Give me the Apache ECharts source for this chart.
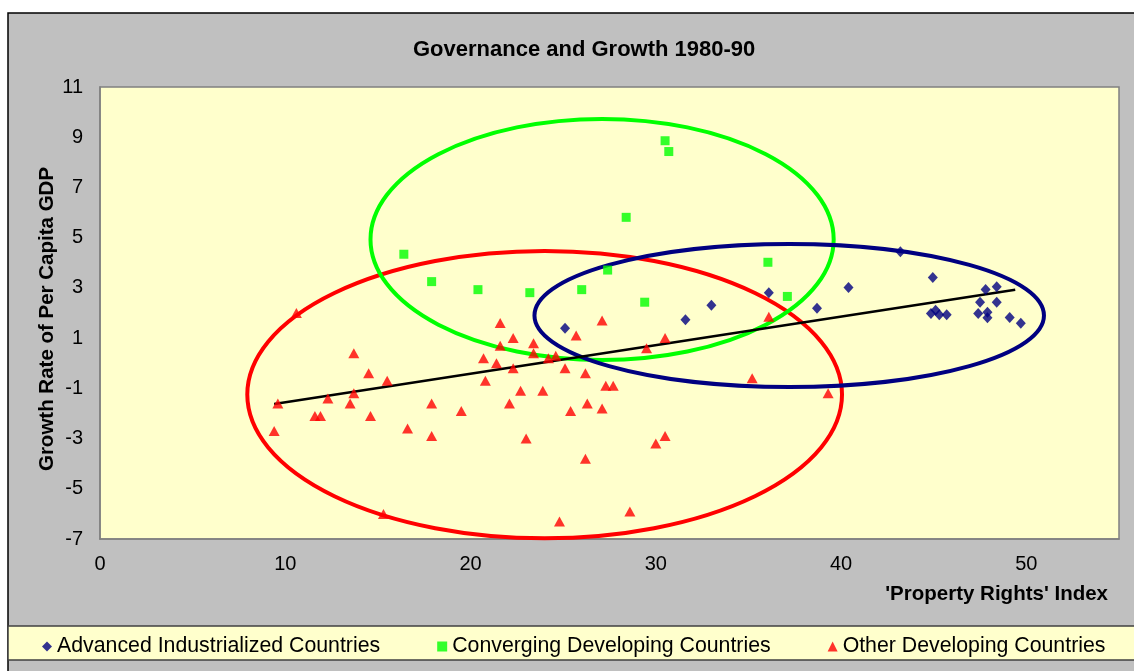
<!DOCTYPE html>
<html>
<head>
<meta charset="utf-8">
<script src="https://cdn.jsdelivr.net/npm/echarts@6/dist/echarts.min.js"></script>
<style>
html,body{margin:0;padding:0;background:#ffffff;}
#chart{width:1134px;height:671px;}
</style>
</head>
<body>
<div id="chart"></div>
<script>
// ---- data ----
const titleText = 'Governance and Growth 1980-90';
const xAxisName = "'Property Rights' Index";
const yAxisName = 'Growth Rate of Per Capita GDP';
const seriesNames = ['Advanced Industrialized Countries', 'Converging Developing Countries', 'Other Developing Countries'];

const advX = [25.1, 31.6, 33.0, 36.1, 38.7, 40.4, 43.2, 44.95, 44.85, 45.1, 45.3, 45.7, 47.8, 48.4, 47.5, 48.4, 47.4, 47.9, 47.9, 49.1, 49.7];
const advY = [1.39, 1.73, 2.31, 2.81, 2.19, 3.02, 4.44, 3.41, 1.98, 2.11, 1.93, 1.93, 2.94, 3.05, 2.43, 2.43, 1.98, 2.03, 1.81, 1.82, 1.59];

const convX = [16.4, 17.9, 20.4, 23.2, 26.0, 27.4, 28.4, 30.5, 30.7, 29.4, 36.05, 37.1];
const convY = [4.34, 3.25, 2.93, 2.81, 2.93, 3.71, 5.81, 8.86, 8.43, 2.43, 4.02, 2.66];

const othX = [10.6, 9.6, 9.4, 11.6, 11.9, 12.3, 13.5, 13.7, 13.7, 14.5, 14.6, 15.5, 15.3, 16.6, 17.9, 17.9, 19.5, 22.1, 25.4, 26.3,
              27.1, 23.0, 26.2, 30.0, 30.5, 24.8, 28.6, 21.6, 22.3, 21.6, 23.4, 23.4, 20.7, 21.4, 22.3, 20.8, 24.2, 24.6, 25.7, 25.1,
              26.2, 22.7, 23.9, 27.1, 29.5, 30.5, 27.3, 27.7, 35.2, 36.1, 39.3];
const othY = [2.0, -1.6, -2.7, -2.1, -2.1, -1.4, -1.6, 0.4, -1.2, -0.4, -2.1, -0.7, -6.0, -2.6, -1.6, -2.9, -1.9, -1.6, -1.9, -1.6,
              -1.8, -3.0, -3.8, -3.2, -2.9, -6.3, -5.9, 1.6, 1.0, 0.7, 0.8, 0.4, 0.2, 0.0, -0.2, -0.7, 0.2, 0.3, 1.1, -0.2,
              -0.4, -1.1, -1.1, 1.7, 0.6, 1.0, -0.9, -0.9, -0.6, 1.85, -1.2];

// fitted trend line end points
const trendX = [9.4, 49.4];
const trendY = [-1.62, 2.93];

// hand-drawn grouping ellipses: [centerX, centerY, radiusX, radiusY] in data units
const ellipseAdv = [37.2, 1.9, 13.75, 2.85];
const ellipseConv = [27.1, 4.93, 12.5, 4.8];
const ellipseOth = [24.0, -1.25, 16.05, 5.72];

const xTicks = {min: 0, max: 55, interval: 10};
const yTicks = {min: -7, max: 11, interval: 2};

// ---- chart ----
const zip = (a, b) => a.map((v, i) => [v, b[i]]);
const colors = ['#000080', '#00FF00', '#FF0000'];
const FONT = 'Arial, "Liberation Sans", sans-serif';

function ellipseSeries(params, color) {
  return {
    type: 'custom',
    silent: true,
    z: 2,
    clip: false,
    data: [params],
    encode: {x: 0, y: 1},
    renderItem: function (p, api) {
      const c = api.coord([api.value(0), api.value(1)]);
      const s = api.size([api.value(2), api.value(3)]);
      const rx = s[0], ry = s[1];
      const d = 'M ' + (c[0] - rx) + ' ' + c[1] +
        ' A ' + rx + ' ' + ry + ' 0 1 0 ' + (c[0] + rx) + ' ' + c[1] +
        ' A ' + rx + ' ' + ry + ' 0 1 0 ' + (c[0] - rx) + ' ' + c[1] + ' Z';
      return {
        type: 'path',
        shape: {pathData: d},
        style: {fill: 'none', stroke: color, lineWidth: 4}
      };
    }
  };
}

const chart = echarts.init(document.getElementById('chart'), null, {renderer: 'canvas'});
chart.setOption({
  backgroundColor: '#ffffff',
  animation: false,
  textStyle: {fontFamily: FONT},
  graphic: [
    {type: 'rect', z: -10, shape: {x: 8, y: 13, width: 1140, height: 670},
     style: {fill: '#C0C0C0', stroke: '#000000', lineWidth: 1.5}},
    {type: 'rect', z: -9, shape: {x: 8, y: 626, width: 1140, height: 34},
     style: {fill: '#FFFFCC', stroke: '#404040', lineWidth: 1.5}}
  ],
  title: {
    text: titleText,
    left: 408,
    top: 34,
    textStyle: {fontFamily: FONT, fontSize: 22, fontWeight: 'bold', color: '#000000'}
  },
  legend: {
    left: 37,
    top: 631,
    itemGap: 57,
    itemWidth: 10,
    itemHeight: 10,
    textStyle: {fontFamily: FONT, fontSize: 21.3, color: '#000000'},
    data: [
      {name: seriesNames[0], icon: 'diamond', itemStyle: {color: colors[0]}},
      {name: seriesNames[1], icon: 'rect', itemStyle: {color: colors[1]}},
      {name: seriesNames[2], icon: 'triangle', itemStyle: {color: colors[2]}}
    ]
  },
  grid: {
    left: 100, top: 87, right: 15, bottom: 132,
    show: true, backgroundColor: '#FFFFCC', borderColor: '#808080', borderWidth: 1.5
  },
  xAxis: {
    type: 'value',
    min: xTicks.min, max: xTicks.max, interval: xTicks.interval,
    name: xAxisName,
    nameLocation: 'end',
    nameGap: -11,
    nameMoveOverlap: false,
    nameTextStyle: {fontFamily: FONT, fontSize: 20.5, fontWeight: 'bold', color: '#000000',
                    align: 'right', verticalAlign: 'top', padding: [45, 0, 0, 0]},
    axisLine: {show: true, onZero: false, lineStyle: {color: '#808080', width: 1.5}},
    axisTick: {show: false},
    splitLine: {show: false},
    axisLabel: {fontFamily: FONT, fontSize: 20, color: '#000000', margin: 15, showMaxLabel: false}
  },
  yAxis: {
    type: 'value',
    min: yTicks.min, max: yTicks.max, interval: yTicks.interval,
    name: yAxisName,
    nameLocation: 'middle',
    nameGap: 42,
    nameMoveOverlap: false,
    nameTextStyle: {fontFamily: FONT, fontSize: 20.5, fontWeight: 'bold', color: '#000000',
                    padding: [0, 12, 0, 0]},
    axisLine: {show: true, onZero: false, lineStyle: {color: '#808080', width: 1.5}},
    axisTick: {show: false},
    splitLine: {show: false},
    axisLabel: {fontFamily: FONT, fontSize: 20, color: '#000000', margin: 17}
  },
  series: [
    ellipseSeries(ellipseOth, colors[2]),
    ellipseSeries(ellipseConv, colors[1]),
    ellipseSeries(ellipseAdv, colors[0]),
    {
      name: 'trend', type: 'line', z: 3, silent: true,
      data: zip(trendX, trendY), symbol: 'none',
      lineStyle: {color: '#000000', width: 2.5}
    },
    {
      name: seriesNames[0], type: 'scatter', z: 4,
      data: zip(advX, advY), symbol: 'diamond', symbolSize: [10, 11],
      itemStyle: {color: colors[0]}
    },
    {
      name: seriesNames[1], type: 'scatter', z: 4,
      data: zip(convX, convY), symbol: 'rect', symbolSize: 9,
      itemStyle: {color: colors[1]}
    },
    {
      name: seriesNames[2], type: 'scatter', z: 4,
      data: zip(othX, othY), symbol: 'triangle', symbolSize: [11, 10],
      itemStyle: {color: colors[2]}
    }
  ]
});
</script>
</body>
</html>
